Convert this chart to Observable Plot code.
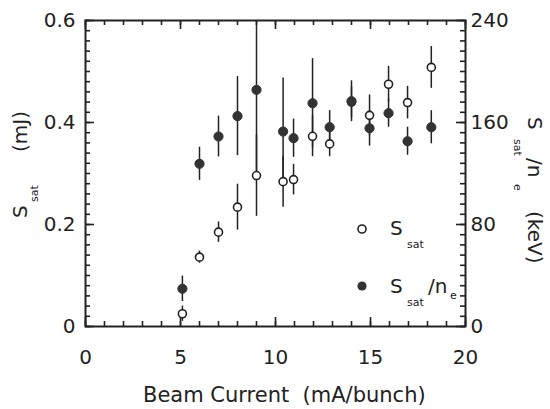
<!DOCTYPE html>
<html><head><meta charset="utf-8">
<script src="https://cdn.jsdelivr.net/npm/d3@7"></script>
<script src="https://cdn.jsdelivr.net/npm/@observablehq/plot@0.6"></script>
<style>html,body{margin:0;padding:0;background:#fff;} svg{display:block}</style>
</head><body><div id="chart"></div>
<script>
// Beam current (mA/bunch)
const current = [5.1, 6, 7, 8, 9, 10.4, 10.95, 11.95, 12.85, 14, 14.95, 15.95, 16.95, 18.2];
// S_sat (mJ), open circles, left axis
const sSat = [0.025, 0.136, 0.185, 0.234, 0.296, 0.284, 0.288, 0.373, 0.358, 0.44, 0.414, 0.475, 0.439, 0.508];
const sSatErr = [0.015, 0.012, 0.02, 0.045, 0.08, 0.05, 0.03, 0.04, 0.025, 0.03, 0.04, 0.035, 0.032, 0.041];
// S_sat/n_e (keV), filled circles, right axis
const sSatPerNe = [29.6, 127.6, 149, 165, 185.6, 152.9, 147.7, 175.1, 156.3, 176.7, 155.5, 167.3, 145.3, 156.3];
const sSatPerNeErr = [10, 13, 16, 31, 65, 42, 15, 35, 13, 16, 14, 11, 11, 13];
// tick labels
const xTickLabels = [0, 5, 10, 15, 20];
const leftTickLabels = [0, 0.2, 0.4, 0.6];
const rightTickLabels = [0, 80, 160, 240];
const xMinorTicks = d3.range(0, 21, 1);
const yMinorTicks = d3.range(0, 31).map(i => i * 0.02);

const keVPerMJ = rightTickLabels[rightTickLabels.length - 1] / leftTickLabels[leftTickLabels.length - 1];
const rows = current.map((x, i) => ({
  x,
  s: sSat[i], se: sSatErr[i],
  n: sSatPerNe[i] / keVPerMJ, ne: sSatPerNeErr[i] / keVPerMJ
}));

const W = 550, H = 409, ML = 85, MR = 85, MT = 20, MB = 83;
const PW = W - ML - MR, PH = H - MT - MB;
const xDom = [xTickLabels[0], xTickLabels[xTickLabels.length - 1]];
const yDom = [leftTickLabels[0], leftTickLabels[leftTickLabels.length - 1]];
// inward tick lengths, converted from pixels to data units
const minor = 5, major = 9;
const xLen = px => px / PW * (xDom[1] - xDom[0]);
const yLen = px => px / PH * (yDom[1] - yDom[0]);
const ink = "#222";
const tk = {stroke: ink, strokeWidth: 1.6};
const svg = Plot.plot({
  width: W, height: H,
  marginLeft: ML, marginRight: MR, marginTop: MT, marginBottom: MB,
  style: {fontFamily: "DejaVu Sans", fontSize: "20px", color: ink, background: "#fff", overflow: "visible"},
  x: {domain: xDom},
  y: {domain: yDom},
  marks: [
    // inward ticks on all four sides
    Plot.ruleX(xMinorTicks, {x: d => d, y1: yDom[0], y2: yDom[0] + yLen(minor), ...tk}),
    Plot.ruleX(xTickLabels, {x: d => d, y1: yDom[0], y2: yDom[0] + yLen(major), ...tk}),
    Plot.ruleX(xMinorTicks, {x: d => d, y1: yDom[1], y2: yDom[1] - yLen(minor), ...tk}),
    Plot.ruleX(xTickLabels, {x: d => d, y1: yDom[1], y2: yDom[1] - yLen(major), ...tk}),
    Plot.ruleY(yMinorTicks, {y: d => d, x1: xDom[0], x2: xDom[0] + xLen(minor), ...tk}),
    Plot.ruleY(leftTickLabels, {y: d => d, x1: xDom[0], x2: xDom[0] + xLen(major), ...tk}),
    Plot.ruleY(yMinorTicks, {y: d => d, x1: xDom[1], x2: xDom[1] - xLen(minor), ...tk}),
    Plot.ruleY(leftTickLabels, {y: d => d, x1: xDom[1], x2: xDom[1] - xLen(major), ...tk}),
    // error bars and points
    Plot.ruleX(rows, {x: "x", y1: d => d.n - d.ne, y2: d => d.n + d.ne, stroke: ink, strokeWidth: 1.5, clip: true}),
    Plot.ruleX(rows, {x: "x", y1: d => d.s - d.se, y2: d => d.s + d.se, stroke: ink, strokeWidth: 1.5, clip: true}),
    Plot.dot(rows, {x: "x", y: "s", r: 4, fill: "#fff", stroke: ink, strokeWidth: 1.6}),
    Plot.dot(rows, {x: "x", y: "n", r: 4.6, fill: "#333", stroke: "#333", strokeWidth: 1}),
    // tick labels
    Plot.axisX(xTickLabels, {anchor: "bottom", tickSize: 0, tickPadding: 23, label: null, fill: ink}),
    Plot.axisY(leftTickLabels, {anchor: "left", tickSize: 0, tickPadding: 10, label: null, fill: ink,
      tickFormat: d => d === 0 ? "0" : d.toFixed(1)}),
    Plot.axisY(rightTickLabels.map(v => v / keVPerMJ), {anchor: "right", tickSize: 0, tickPadding: 5, label: null, fill: ink,
      tickFormat: d => String(Math.round(d * keVPerMJ))}),
    Plot.frame({stroke: ink, strokeWidth: 2})
  ]
});
document.getElementById("chart").append(svg);

const g = d3.select(svg).append("g").attr("fill", ink).attr("font-family", "DejaVu Sans")
  .attr("text-anchor", "start");

// x axis title
g.append("text").attr("x", 143).attr("y", 402).attr("font-size", 21)
  .style("white-space", "pre").text("Beam Current  (mA/bunch)");

// left axis title
const lt = g.append("text").attr("transform", "translate(27,218) rotate(-90)").attr("font-size", 20);
lt.append("tspan").attr("x", 0).attr("y", 0).text("S");
lt.append("tspan").attr("x", 16).attr("y", 11).attr("font-size", 11).text("sat");
lt.append("tspan").attr("x", 66).attr("y", 0).text("(mJ)");

// right axis title
const rt = g.append("text").attr("transform", "translate(528,117) rotate(90)").attr("font-size", 20);
rt.append("tspan").attr("x", 0).attr("y", 0).text("S");
rt.append("tspan").attr("x", 22).attr("y", 14).attr("font-size", 11).text("sat");
rt.append("tspan").attr("x", 41).attr("y", 0).text("/n");
rt.append("tspan").attr("x", 67).attr("y", 14).attr("font-size", 11).text("e");
rt.append("tspan").attr("x", 94).attr("y", 0).text("(keV)");

// legend
g.append("circle").attr("cx", 362).attr("cy", 229).attr("r", 4).attr("fill", "#fff").attr("stroke", ink).attr("stroke-width", 1.6);
g.append("circle").attr("cx", 362).attr("cy", 286).attr("r", 4.6).attr("fill", "#333");
const l1 = g.append("text").attr("font-size", 20);
l1.append("tspan").attr("x", 390).attr("y", 235).text("S");
l1.append("tspan").attr("x", 407).attr("y", 248).attr("font-size", 11).text("sat");
const l2 = g.append("text").attr("font-size", 20);
l2.append("tspan").attr("x", 390).attr("y", 293).text("S");
l2.append("tspan").attr("x", 407).attr("y", 306).attr("font-size", 11).text("sat");
l2.append("tspan").attr("x", 428).attr("y", 293).text("/n");
l2.append("tspan").attr("x", 450).attr("y", 299).attr("font-size", 11).text("e");
</script>
</body></html>
